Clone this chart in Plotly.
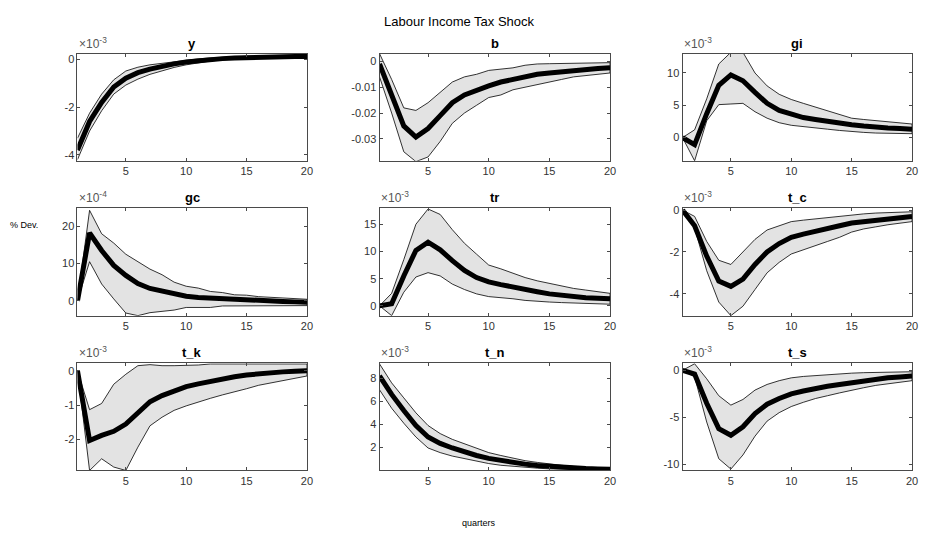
import plotly.graph_objects as go

quarters = list(range(1, 21))
names = ["y", "b", "gi", "gc", "tr", "t_c", "t_k", "t_n", "t_s"]
exponents = ["-3", None, "-3", "-4", "-3", "-3", "-3", "-3", "-3"]

# values shown in units of the panel's multiplier (x10^exp)
y_mean = [-3.8, -2.6, -1.8, -1.15, -0.78, -0.55, -0.4, -0.28, -0.18, -0.1, -0.04, 0.0, 0.04, 0.07, 0.09, 0.11, 0.12, 0.13, 0.13, 0.13]
y_up = [-3.3, -2.25, -1.45, -0.85, -0.48, -0.32, -0.22, -0.15, -0.08, -0.02, 0.03, 0.07, 0.1, 0.13, 0.15, 0.16, 0.17, 0.18, 0.18, 0.18]
y_lo = [-4.2, -3.0, -2.15, -1.45, -1.07, -0.82, -0.62, -0.47, -0.33, -0.22, -0.13, -0.06, -0.01, 0.02, 0.04, 0.06, 0.07, 0.08, 0.08, 0.08]

b_mean = [-0.001, -0.013, -0.025, -0.0293, -0.026, -0.021, -0.016, -0.013, -0.011, -0.0095, -0.008, -0.007, -0.006, -0.005, -0.0045, -0.004, -0.0035, -0.003, -0.0028, -0.0025]
b_up = [0.003, -0.007, -0.018, -0.019, -0.016, -0.012, -0.008, -0.006, -0.005, -0.0035, -0.003, -0.0025, -0.0015, -0.001, -0.0009, -0.0008, -0.0007, -0.0006, -0.0005, -0.0005]
b_lo = [-0.006, -0.02, -0.035, -0.0388, -0.037, -0.031, -0.024, -0.02, -0.017, -0.014, -0.013, -0.011, -0.01, -0.009, -0.008, -0.007, -0.006, -0.0055, -0.005, -0.0045]

gi_mean = [0.0, -1.1, 3.7, 8.1, 9.7, 8.8, 7.0, 5.3, 4.2, 3.6, 3.1, 2.8, 2.5, 2.2, 2.0, 1.8, 1.6, 1.5, 1.4, 1.3]
gi_up = [0.0, 1.2, 6.0, 11.4, 13.2, 13.2, 10.0, 8.0, 6.7, 5.9, 5.3, 4.7, 4.1, 3.5, 3.0, 2.8, 2.6, 2.4, 2.2, 2.1]
gi_lo = [0.0, -3.6, 2.6, 5.1, 5.2, 5.3, 4.0, 3.0, 2.3, 1.9, 1.7, 1.5, 1.3, 1.1, 0.9, 0.8, 0.7, 0.65, 0.6, 0.6]

gc_mean = [0.0, 18.2, 13.5, 9.5, 6.8, 4.6, 3.3, 2.5, 1.8, 1.2, 0.9, 0.7, 0.5, 0.35, 0.2, 0.1, 0.0, -0.2, -0.3, -0.4]
gc_up = [0.0, 24.3, 18.0, 15.5, 12.5, 10.5, 8.5, 7.0, 5.0, 3.9, 3.4, 2.5, 2.2, 1.6, 1.5, 1.1, 0.9, 0.7, 0.5, 0.4]
gc_lo = [0.0, 10.5, 4.5, 0.5, -3.3, -4.0, -3.2, -2.8, -2.5, -1.8, -1.8, -1.8, -1.4, -1.3, -1.3, -1.3, -1.3, -1.3, -1.3, -1.3]

tr_mean = [0.0, 0.4, 5.5, 10.2, 11.7, 10.3, 8.3, 6.5, 5.2, 4.4, 3.9, 3.4, 3.0, 2.6, 2.2, 1.9, 1.7, 1.5, 1.4, 1.3]
tr_up = [0.0, 2.3, 8.5, 15.0, 17.8, 16.8, 14.0, 11.5, 9.5, 7.5, 6.8, 6.0, 5.2, 4.6, 4.1, 3.6, 3.2, 2.9, 2.6, 2.3]
tr_lo = [0.0, -1.8, 2.5, 5.3, 6.1, 5.5, 4.0, 3.0, 2.2, 1.7, 1.5, 1.3, 1.0, 0.8, 0.7, 0.6, 0.5, 0.4, 0.35, 0.3]

tc_mean = [0.0, -0.75, -2.2, -3.4, -3.65, -3.3, -2.6, -2.0, -1.6, -1.3, -1.15, -1.0, -0.9, -0.75, -0.62, -0.55, -0.47, -0.4, -0.35, -0.3]
tc_up = [0.0, -0.3, -1.5, -2.4, -2.6, -2.0, -1.4, -0.95, -0.75, -0.55, -0.48, -0.42, -0.35, -0.28, -0.22, -0.18, -0.14, -0.11, -0.09, -0.08]
tc_lo = [0.0, -0.85, -2.9, -4.4, -5.05, -4.6, -3.8, -3.0, -2.5, -2.1, -1.9, -1.7, -1.5, -1.3, -1.05, -0.9, -0.8, -0.7, -0.62, -0.55]

tk_mean = [0.0, -2.03, -1.88, -1.76, -1.55, -1.2, -0.9, -0.72, -0.58, -0.46, -0.38, -0.3, -0.23, -0.17, -0.12, -0.08, -0.05, -0.03, -0.01, 0.0]
tk_up = [0.0, -1.13, -0.95, -0.39, -0.1, 0.15, 0.18, 0.15, 0.15, 0.15, 0.17, 0.2, 0.2, 0.2, 0.2, 0.2, 0.2, 0.2, 0.2, 0.2]
tk_lo = [0.0, -2.9, -2.56, -2.8, -2.9, -2.22, -1.6, -1.35, -1.15, -1.02, -0.9, -0.8, -0.7, -0.6, -0.52, -0.42, -0.35, -0.28, -0.22, -0.15]

tn_mean = [8.2, 6.6, 5.2, 3.9, 2.9, 2.35, 1.95, 1.6, 1.3, 1.05, 0.85, 0.68, 0.55, 0.44, 0.35, 0.28, 0.22, 0.17, 0.13, 0.1]
tn_up = [9.25, 7.6, 6.3, 5.0, 3.9, 3.2, 2.7, 2.3, 1.9, 1.55, 1.3, 1.05, 0.85, 0.7, 0.55, 0.45, 0.35, 0.28, 0.2, 0.15]
tn_lo = [7.0, 5.4, 4.1, 2.9, 1.95, 1.55, 1.25, 1.0, 0.8, 0.6, 0.45, 0.35, 0.27, 0.2, 0.14, 0.1, 0.08, 0.06, 0.05, 0.04]

ts_mean = [0.0, -0.4, -3.5, -6.2, -6.9, -6.0, -4.6, -3.6, -3.0, -2.5, -2.2, -1.9, -1.7, -1.5, -1.3, -1.1, -0.95, -0.8, -0.7, -0.6]
ts_up = [0.0, 0.7, -0.9, -2.7, -3.7, -3.1, -2.1, -1.5, -1.1, -0.8, -0.65, -0.55, -0.45, -0.38, -0.3, -0.25, -0.22, -0.19, -0.17, -0.15]
ts_lo = [0.0, -0.7, -5.5, -9.4, -10.5, -9.0, -7.0, -5.4, -4.5, -3.85, -3.4, -3.0, -2.7, -2.4, -2.1, -1.85, -1.6, -1.4, -1.25, -1.1]

means = [y_mean, b_mean, gi_mean, gc_mean, tr_mean, tc_mean, tk_mean, tn_mean, ts_mean]
uppers = [y_up, b_up, gi_up, gc_up, tr_up, tc_up, tk_up, tn_up, ts_up]
lowers = [y_lo, b_lo, gi_lo, gc_lo, tr_lo, tc_lo, tk_lo, tn_lo, ts_lo]

y_ranges = [[-4.25, 0.25], [-0.0385, 0.003], [-3.6, 13], [-4, 24.8], [-1.8, 17.9],
            [-5.05, 0.08], [-2.9, 0.22], [0, 9.3], [-10.65, 0.75]]
y_ticks = [[-4, -2, 0], [-0.03, -0.02, -0.01, 0], [0, 5, 10], [0, 10, 20], [0, 5, 10, 15],
           [-4, -2, 0], [-2, -1, 0], [2, 4, 6, 8], [-10, -5, 0]]
y_ticktext = [["-4", "-2", "0"], ["-0.03", "-0.02", "-0.01", "0"], ["0", "5", "10"],
              ["0", "10", "20"], ["0", "5", "10", "15"], ["-4", "-2", "0"],
              ["-2", "-1", "0"], ["2", "4", "6", "8"], ["-10", "-5", "0"]]
x_ticks = [5, 10, 15, 20]

W, H = 925, 533
col_px = [(78, 309), (382, 614), (687, 918)]
row_px = [(50, 158), (206, 314), (362, 470)]

axis_col = "#4a4a4a"
font_fam = "Liberation Sans, Arial, sans-serif"

fig = go.Figure()
annotations = []
layout_axes = {}
for i, name in enumerate(names):
    r, c = divmod(i, 3)
    k = "" if i == 0 else str(i + 1)
    xa, ya = "x" + k, "y" + k
    x0, x1 = col_px[c]
    t0, t1 = row_px[r]
    xd = [x0 / W, x1 / W]
    yd = [1 - t1 / H, 1 - t0 / H]
    band_x = quarters + quarters[::-1]
    band_y = uppers[i] + lowers[i][::-1]
    fig.add_trace(go.Scatter(x=band_x, y=band_y, fill="toself", fillcolor="#e3e3e3",
                             line=dict(color="black", width=0.8), mode="lines",
                             xaxis=xa, yaxis=ya, showlegend=False, hoverinfo="skip"))
    fig.add_trace(go.Scatter(x=quarters, y=means[i], mode="lines",
                             line=dict(color="black", width=5),
                             xaxis=xa, yaxis=ya, showlegend=False))
    common = dict(showgrid=False, zeroline=False, showline=True, linecolor=axis_col,
                  linewidth=1, mirror="ticks", ticks="inside", ticklen=3,
                  tickcolor=axis_col, tickfont=dict(family=font_fam, size=11, color="#333333"))
    layout_axes["xaxis" + k] = dict(domain=xd, range=[1, 20], tickvals=x_ticks,
                                    anchor=ya, **common)
    layout_axes["yaxis" + k] = dict(domain=yd, range=y_ranges[i], tickvals=y_ticks[i],
                                    ticktext=y_ticktext[i], anchor=xa, **common)
    annotations.append(dict(x=(x0 + x1) / 2 / W, y=1 - (t0 - 1) / H, xref="paper", yref="paper",
                            text="<b>" + name + "</b>", showarrow=False, xanchor="center",
                            yanchor="bottom", font=dict(family=font_fam, size=13, color="black")))
    if exponents[i]:
        annotations.append(dict(x=(x0 - 1) / W, y=1 - (t0 - 1) / H, xref="paper", yref="paper",
                                text="×10<sup>" + exponents[i] + "</sup>", showarrow=False,
                                xanchor="left", yanchor="bottom",
                                font=dict(family=font_fam, size=12, color="#555555")))

annotations.append(dict(x=462 / W, y=1 - 18 / H, xref="paper", yref="paper",
                        text="Labour Income Tax Shock", showarrow=False, xanchor="center",
                        yanchor="middle", font=dict(family=font_fam, size=13, color="black")))
annotations.append(dict(x=24 / W, y=1 - 223 / H, xref="paper", yref="paper",
                        text="% Dev.", showarrow=False, xanchor="center",
                        yanchor="middle", font=dict(family=font_fam, size=9, color="black")))
annotations.append(dict(x=482 / W, y=1 - 523 / H, xref="paper", yref="paper",
                        text="quarters", showarrow=False, xanchor="center",
                        yanchor="middle", font=dict(family=font_fam, size=9, color="black")))

fig.update_layout(width=W, height=H, margin=dict(l=0, r=0, t=0, b=0),
                  paper_bgcolor="white", plot_bgcolor="white",
                  annotations=annotations, **layout_axes)
fig.write_html("out.html")
